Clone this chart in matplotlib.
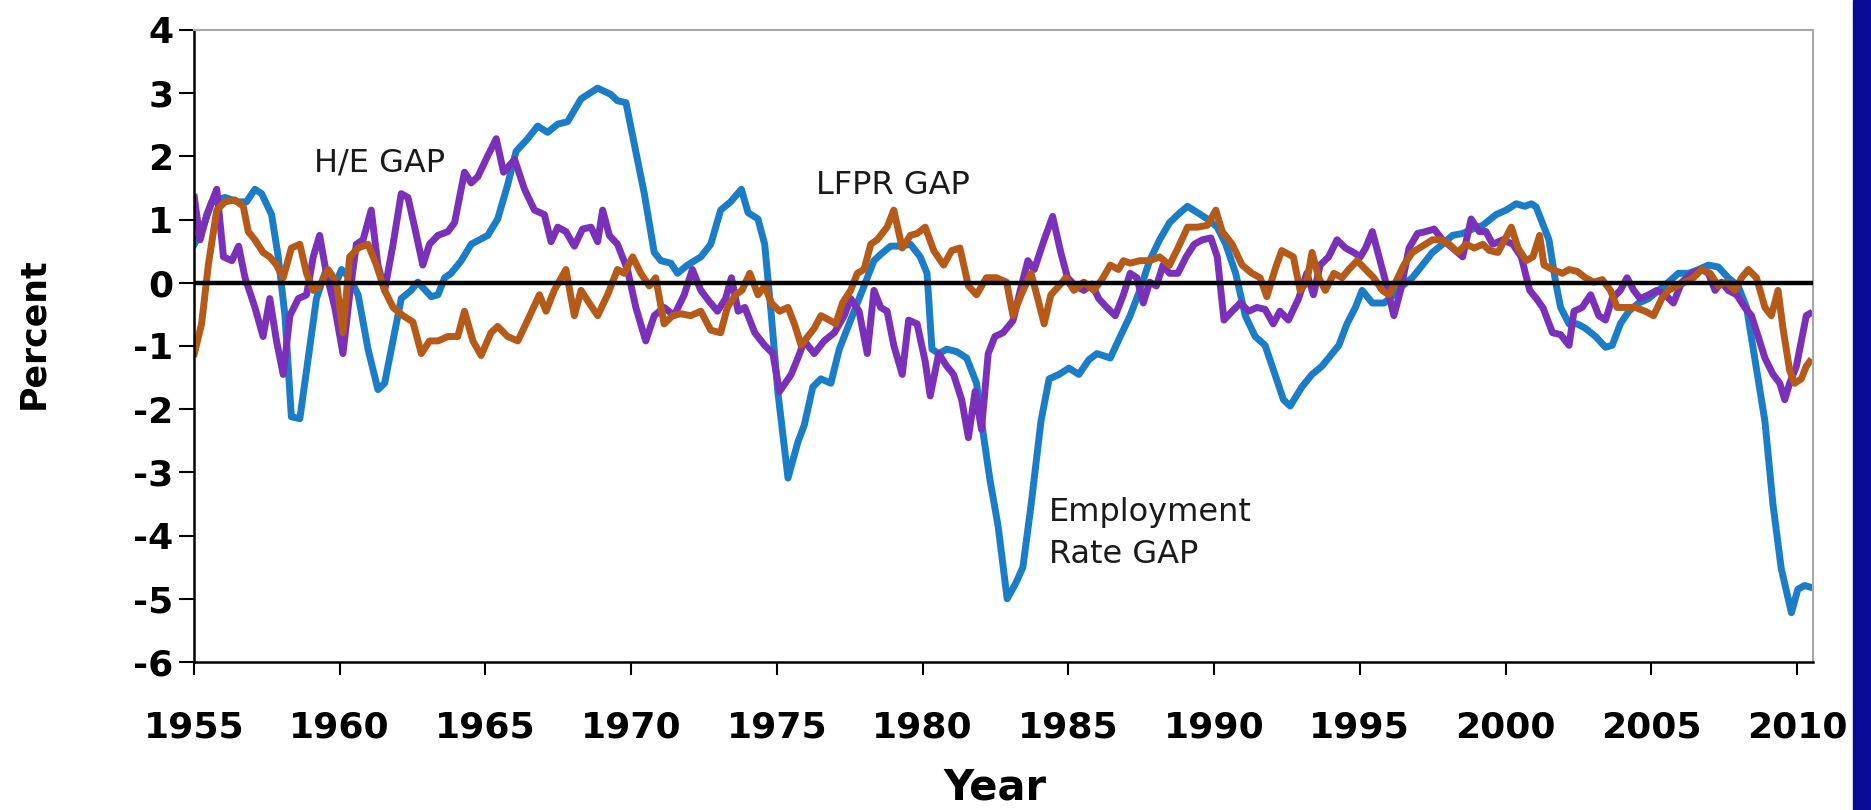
import numpy as np
import matplotlib.pyplot as plt
from matplotlib.patches import Rectangle

plt.rcParams['font.family'] = 'DejaVu Sans'
plt.rcParams['axes.unicode_minus'] = False

# employment rate gap (blue)
emp_years = [1955.01, 1955.26, 1955.61, 1956.06, 1956.52, 1956.80, 1957.09, 1957.32, 1957.66, 1957.89,
             1958.12, 1958.34, 1958.63, 1958.92, 1959.20, 1959.49, 1959.77, 1960.06, 1960.34, 1960.63,
             1960.97, 1961.31, 1961.54, 1961.88, 1962.11, 1962.45, 1962.68, 1963.14, 1963.37, 1963.60,
             1963.82, 1964.17, 1964.51, 1965.08, 1965.42, 1965.76, 1966.05, 1966.45, 1966.79, 1967.13,
             1967.48, 1967.82, 1968.28, 1968.85, 1969.30, 1969.53, 1969.82, 1970.10, 1970.45, 1970.79,
             1971.02, 1971.36, 1971.59, 1971.93, 1972.39, 1972.73, 1973.07, 1973.41, 1973.78, 1974.01,
             1974.35, 1974.58, 1974.81, 1975.03, 1975.38, 1975.72, 1975.94, 1976.23, 1976.51, 1976.85,
             1977.14, 1977.42, 1977.70, 1977.99, 1978.33, 1978.56, 1978.90, 1979.24, 1979.58, 1979.92,
             1980.15, 1980.32, 1980.55, 1980.83, 1981.17, 1981.51, 1981.85, 1982.08, 1982.31, 1982.59,
             1982.90, 1983.20, 1983.44, 1983.72, 1984.06, 1984.34, 1984.68, 1985.02, 1985.36, 1985.70,
             1985.98, 1986.44, 1986.78, 1987.12, 1987.45, 1987.79, 1988.13, 1988.47, 1988.76, 1989.09,
             1989.43, 1989.77, 1990.11, 1990.40, 1990.74, 1991.07, 1991.41, 1991.75, 1992.09, 1992.38,
             1992.61, 1993.01, 1993.36, 1993.70, 1994.05, 1994.28, 1994.56, 1994.85, 1995.08, 1995.43,
             1995.83, 1996.17, 1996.46, 1996.80, 1997.15, 1997.49, 1997.84, 1998.18, 1998.53, 1998.87,
             1999.22, 1999.68, 2000.02, 2000.37, 2000.66, 2000.89, 2001.05, 2001.26, 2001.49, 2001.72,
             2001.89, 2002.18, 2002.46, 2002.74, 2003.09, 2003.43, 2003.66, 2003.94, 2004.23, 2004.57,
             2004.91, 2005.25, 2005.59, 2005.93, 2006.28, 2006.62, 2006.96, 2007.30, 2007.64, 2007.98,
             2008.27, 2008.55, 2008.90, 2009.18, 2009.46, 2009.81, 2010.03, 2010.26, 2010.49]
emp_gap = [0.61, 0.81, 1.28, 1.35, 1.28, 1.28, 1.48, 1.41, 1.08, 0.41,
           -0.52, -2.12, -2.15, -1.19, -0.25, 0.15, -0.12, 0.21, 0.08, -0.19,
           -1.05, -1.69, -1.59, -0.79, -0.25, -0.12, 0.01, -0.22, -0.19, 0.08,
           0.15, 0.35, 0.61, 0.75, 1.01, 1.55, 2.08, 2.28, 2.48, 2.38,
           2.51, 2.55, 2.91, 3.08, 2.98, 2.88, 2.85, 2.21, 1.41, 0.48,
           0.35, 0.31, 0.15, 0.28, 0.41, 0.61, 1.15, 1.28, 1.48, 1.11,
           1.01, 0.61, -0.52, -1.72, -3.09, -2.52, -2.25, -1.65, -1.52, -1.59,
           -1.05, -0.72, -0.39, -0.05, 0.35, 0.45, 0.58, 0.58, 0.61, 0.41,
           0.15, -1.05, -1.12, -1.05, -1.09, -1.19, -1.59, -2.39, -3.12, -3.85,
           -5.00, -4.75, -4.50, -3.52, -2.19, -1.52, -1.45, -1.35, -1.45, -1.22,
           -1.12, -1.19, -0.85, -0.52, -0.12, 0.35, 0.68, 0.95, 1.08, 1.21,
           1.11, 1.01, 0.88, 0.61, 0.15, -0.52, -0.85, -0.99, -1.45, -1.85,
           -1.95, -1.65, -1.45, -1.32, -1.12, -0.99, -0.65, -0.39, -0.12, -0.32,
           -0.32, -0.19, -0.05, 0.08, 0.28, 0.48, 0.61, 0.75, 0.78, 0.85,
           0.91, 1.08, 1.15, 1.25, 1.21, 1.25, 1.20, 0.95, 0.68, 0.01,
           -0.39, -0.65, -0.65, -0.72, -0.85, -1.02, -0.99, -0.65, -0.45, -0.32,
           -0.25, -0.12, 0.01, 0.15, 0.15, 0.21, 0.28, 0.25, 0.08, -0.05,
           -0.39, -1.19, -2.19, -3.52, -4.52, -5.22, -4.85, -4.79, -4.82]

# hours per employee gap (purple)
he_years = [1955.01, 1955.21, 1955.44, 1955.78, 1956.01, 1956.30, 1956.53, 1956.75, 1957.09, 1957.37,
            1957.60, 1957.83, 1958.06, 1958.29, 1958.58, 1958.86, 1959.09, 1959.31, 1959.54, 1959.83,
            1960.11, 1960.34, 1960.57, 1960.80, 1961.08, 1961.31, 1961.54, 1961.83, 1962.11, 1962.34,
            1962.57, 1962.85, 1963.08, 1963.37, 1963.71, 1963.94, 1964.28, 1964.51, 1964.74, 1965.08,
            1965.37, 1965.62, 1966.00, 1966.34, 1966.68, 1967.02, 1967.25, 1967.48, 1967.76, 1968.05,
            1968.33, 1968.62, 1968.85, 1969.02, 1969.25, 1969.53, 1969.87, 1970.16, 1970.50, 1970.79,
            1971.13, 1971.47, 1971.82, 1972.10, 1972.39, 1972.67, 1972.96, 1973.24, 1973.44, 1973.67,
            1973.90, 1974.24, 1974.58, 1974.86, 1975.09, 1975.49, 1975.72, 1975.94, 1976.28, 1976.62,
            1976.97, 1977.31, 1977.53, 1977.82, 1978.10, 1978.33, 1978.56, 1978.78, 1979.01, 1979.30,
            1979.52, 1979.81, 1980.09, 1980.26, 1980.55, 1980.83, 1981.06, 1981.34, 1981.57, 1981.80,
            1982.02, 1982.25, 1982.48, 1982.76, 1983.10, 1983.35, 1983.61, 1983.83, 1984.17, 1984.46,
            1984.74, 1984.97, 1985.25, 1985.53, 1985.81, 1986.04, 1986.32, 1986.61, 1986.89, 1987.12,
            1987.35, 1987.57, 1987.79, 1988.02, 1988.25, 1988.47, 1988.76, 1989.04, 1989.32, 1989.60,
            1989.89, 1990.11, 1990.34, 1990.62, 1990.90, 1991.19, 1991.47, 1991.75, 1992.03, 1992.26,
            1992.55, 1992.90, 1993.18, 1993.41, 1993.64, 1993.93, 1994.22, 1994.51, 1994.79, 1995.02,
            1995.20, 1995.43, 1995.66, 1995.89, 1996.17, 1996.40, 1996.69, 1996.98, 1997.26, 1997.55,
            1997.84, 1998.18, 1998.53, 1998.82, 1999.10, 1999.33, 1999.56, 1999.91, 2000.25, 2000.54,
            2000.83, 2001.06, 2001.29, 2001.61, 2001.89, 2002.18, 2002.35, 2002.63, 2002.92, 2003.20,
            2003.43, 2003.66, 2003.94, 2004.17, 2004.40, 2004.62, 2004.91, 2005.19, 2005.48, 2005.76,
            2006.05, 2006.39, 2006.73, 2006.96, 2007.19, 2007.41, 2007.64, 2007.93, 2008.21, 2008.44,
            2008.67, 2008.90, 2009.18, 2009.41, 2009.58, 2009.75, 2009.98, 2010.15, 2010.32, 2010.43]
he_gap = [1.35, 0.68, 1.08, 1.48, 0.41, 0.35, 0.58, 0.08, -0.39, -0.85,
          -0.25, -0.92, -1.45, -0.52, -0.25, -0.19, 0.41, 0.75, 0.15, -0.39,
          -1.12, -0.19, 0.61, 0.68, 1.15, 0.28, -0.12, 0.61, 1.41, 1.35,
          0.88, 0.28, 0.61, 0.75, 0.81, 0.95, 1.75, 1.58, 1.68, 2.01,
          2.28, 1.75, 1.95, 1.48, 1.15, 1.08, 0.65, 0.88, 0.81, 0.58,
          0.85, 0.88, 0.65, 1.15, 0.75, 0.61, 0.21, -0.39, -0.92, -0.52,
          -0.39, -0.52, -0.19, 0.21, -0.12, -0.29, -0.45, -0.25, 0.08, -0.45,
          -0.39, -0.79, -0.99, -1.12, -1.72, -1.45, -1.19, -0.92, -1.12, -0.92,
          -0.79, -0.52, -0.25, -0.45, -1.12, -0.12, -0.39, -0.45, -0.99, -1.45,
          -0.59, -0.65, -1.25, -1.79, -1.12, -1.32, -1.45, -1.85, -2.45, -1.72,
          -2.32, -1.12, -0.85, -0.79, -0.60, -0.12, 0.35, 0.21, 0.68, 1.05,
          0.48, 0.08, -0.05, -0.12, -0.02, -0.25, -0.39, -0.52, -0.19, 0.15,
          0.08, -0.32, 0.01, -0.05, 0.28, 0.15, 0.15, 0.41, 0.61, 0.68,
          0.71, 0.41, -0.59, -0.45, -0.32, -0.45, -0.39, -0.42, -0.65, -0.45,
          -0.59, -0.25, 0.15, -0.19, 0.28, 0.41, 0.68, 0.55, 0.48, 0.41,
          0.55, 0.81, 0.41, 0.01, -0.52, -0.12, 0.55, 0.78, 0.81, 0.85,
          0.68, 0.55, 0.41, 1.01, 0.81, 0.81, 0.61, 0.68, 0.61, 0.41,
          -0.12, -0.25, -0.40, -0.79, -0.82, -0.99, -0.45, -0.39, -0.19, -0.52,
          -0.59, -0.25, -0.12, 0.08, -0.12, -0.25, -0.19, -0.12, -0.19, -0.32,
          0.01, 0.15, 0.21, 0.15, -0.12, 0.01, -0.12, -0.19, -0.39, -0.52,
          -0.85, -1.19, -1.45, -1.59, -1.85, -1.59, -1.32, -0.92, -0.52, -0.49]

# labour force participation rate gap (brown)
lfpr_years = [1955.01, 1955.26, 1955.49, 1955.78, 1956.06, 1956.40, 1956.69, 1956.86, 1957.09, 1957.37,
              1957.60, 1957.83, 1958.06, 1958.34, 1958.63, 1958.86, 1959.09, 1959.31, 1959.60, 1959.89,
              1960.11, 1960.34, 1960.63, 1960.97, 1961.26, 1961.54, 1961.83, 1962.17, 1962.51, 1962.80,
              1963.08, 1963.37, 1963.71, 1964.05, 1964.28, 1964.57, 1964.85, 1965.19, 1965.42, 1965.76,
              1966.11, 1966.45, 1966.85, 1967.08, 1967.36, 1967.76, 1968.05, 1968.28, 1968.56, 1968.85,
              1969.19, 1969.53, 1969.76, 1970.05, 1970.33, 1970.62, 1970.84, 1971.13, 1971.42, 1971.70,
              1972.04, 1972.39, 1972.73, 1973.07, 1973.30, 1973.58, 1973.80, 1974.07, 1974.35, 1974.58,
              1974.81, 1975.09, 1975.38, 1975.60, 1975.83, 1976.06, 1976.28, 1976.51, 1976.80, 1977.02,
              1977.25, 1977.53, 1977.76, 1977.99, 1978.22, 1978.44, 1978.78, 1979.01, 1979.30, 1979.58,
              1979.81, 1980.09, 1980.38, 1980.72, 1981.00, 1981.28, 1981.57, 1981.85, 1982.19, 1982.53,
              1982.88, 1983.10, 1983.38, 1983.72, 1983.95, 1984.17, 1984.40, 1984.68, 1984.91, 1985.19,
              1985.53, 1985.87, 1986.15, 1986.44, 1986.72, 1986.89, 1987.12, 1987.45, 1987.79, 1988.13,
              1988.47, 1988.76, 1989.09, 1989.43, 1989.77, 1990.06, 1990.28, 1990.62, 1990.96, 1991.30,
              1991.58, 1991.81, 1992.09, 1992.32, 1992.72, 1992.95, 1993.18, 1993.36, 1993.59, 1993.82,
              1994.11, 1994.39, 1994.62, 1994.91, 1995.20, 1995.48, 1995.77, 1996.00, 1996.23, 1996.51,
              1996.80, 1997.15, 1997.49, 1997.78, 1998.07, 1998.36, 1998.64, 1998.93, 1999.22, 1999.45,
              1999.74, 1999.97, 2000.20, 2000.43, 2000.71, 2000.94, 2001.17, 2001.32, 2001.61, 2001.95,
              2002.18, 2002.46, 2002.74, 2003.03, 2003.32, 2003.60, 2003.83, 2004.11, 2004.45, 2004.79,
              2005.08, 2005.36, 2005.59, 2005.88, 2006.16, 2006.45, 2006.73, 2007.02, 2007.30, 2007.58,
              2007.87, 2008.10, 2008.33, 2008.61, 2008.90, 2009.12, 2009.35, 2009.52, 2009.75, 2009.92,
              2010.15, 2010.32, 2010.43]
lfpr_gap = [-1.12, -0.65, 0.28, 1.15, 1.28, 1.31, 1.21, 0.81, 0.68, 0.48,
            0.41, 0.28, 0.08, 0.55, 0.61, 0.15, -0.12, -0.05, 0.21, 0.01,
            -0.79, 0.41, 0.55, 0.61, 0.28, -0.12, -0.39, -0.52, -0.62, -1.12,
            -0.92, -0.92, -0.85, -0.85, -0.45, -0.92, -1.15, -0.79, -0.69, -0.85,
            -0.92, -0.59, -0.19, -0.45, -0.12, 0.21, -0.52, -0.12, -0.32, -0.52,
            -0.19, 0.21, 0.15, 0.41, 0.15, -0.05, 0.08, -0.65, -0.52, -0.49,
            -0.52, -0.45, -0.75, -0.79, -0.39, -0.19, -0.12, 0.15, -0.19, -0.05,
            -0.32, -0.45, -0.39, -0.65, -0.99, -0.85, -0.72, -0.52, -0.59, -0.65,
            -0.32, -0.12, 0.15, 0.21, 0.61, 0.68, 0.88, 1.15, 0.55, 0.75,
            0.78, 0.88, 0.51, 0.28, 0.51, 0.55, -0.05, -0.19, 0.08, 0.08,
            0.01, -0.52, -0.19, 0.15, -0.25, -0.65, -0.19, -0.05, 0.08, -0.12,
            0.01, -0.12, 0.05, 0.28, 0.21, 0.35, 0.31, 0.35, 0.35, 0.41,
            0.28, 0.55, 0.88, 0.88, 0.91, 1.15, 0.81, 0.61, 0.28, 0.15,
            0.08, -0.22, 0.21, 0.51, 0.41, -0.12, 0.01, 0.48, 0.08, -0.12,
            0.15, 0.08, 0.21, 0.35, 0.21, 0.08, -0.12, -0.19, 0.01, 0.28,
            0.48, 0.58, 0.68, 0.68, 0.61, 0.48, 0.61, 0.55, 0.61, 0.51,
            0.48, 0.68, 0.88, 0.55, 0.35, 0.41, 0.75, 0.28, 0.21, 0.15,
            0.21, 0.18, 0.08, 0.01, 0.05, -0.12, -0.39, -0.39, -0.39, -0.45,
            -0.52, -0.25, -0.12, -0.05, 0.01, 0.08, 0.21, 0.15, -0.05, 0.01,
            -0.12, 0.08, 0.21, 0.08, -0.39, -0.52, -0.12, -0.72, -1.39, -1.59,
            -1.52, -1.32, -1.25]

fig = plt.figure(figsize=(18.71, 8.10), dpi=100)
ax = fig.add_axes([0.1037, 0.1827, 0.8653, 0.7803])

ax.plot(emp_years, emp_gap, color='#1b7cc8', lw=5, solid_joinstyle='round')
ax.plot(he_years, he_gap, color='#7a30b8', lw=5, solid_joinstyle='round')
ax.plot(lfpr_years, lfpr_gap, color='#b55a18', lw=5, solid_joinstyle='round')
ax.axhline(0, color='black', lw=3.2, zorder=5)

ax.set_xlim(1955, 2010.55)
ax.set_ylim(-6, 4)
ax.set_xticks(np.arange(1955, 2011, 5))
ax.set_yticks(np.arange(-6, 5, 1))

for s in ['top', 'right']:
    ax.spines[s].set_color('#a8a8a8')
    ax.spines[s].set_linewidth(1.5)
for s in ['left', 'bottom']:
    ax.spines[s].set_color('black')
    ax.spines[s].set_linewidth(1.8)

ax.tick_params(axis='y', direction='out', length=11, width=1.5, pad=4, labelsize=26)
ax.tick_params(axis='x', direction='out', length=9, width=1.5, pad=26, labelsize=26)
for lbl in ax.get_xticklabels() + ax.get_yticklabels():
    lbl.set_fontweight('bold')

txt = '#1a1a1a'
ax.text(1959.1, 1.76, 'H/E GAP', fontsize=23, color=txt, va='baseline')
ax.text(1976.33, 1.40, 'LFPR GAP', fontsize=23, color=txt, va='baseline')
ax.text(1984.32, -3.77, 'Employment', fontsize=23, color=txt, va='baseline')
ax.text(1984.32, -4.43, 'Rate GAP', fontsize=23, color=txt, va='baseline')

fig.text(0.0176, 0.589, 'Percent', rotation=90, fontsize=25, fontweight='bold',
         ha='center', va='center')
fig.text(0.532, 0.028, 'Year', fontsize=30, fontweight='bold', ha='center', va='center')

# dark blue strip on the right edge of the slide
fig.patches.append(Rectangle((0.9904, 0), 0.0096, 1, transform=fig.transFigure,
                             color='#0b0b9a', zorder=10))

fig.savefig('out.png', dpi=100)
